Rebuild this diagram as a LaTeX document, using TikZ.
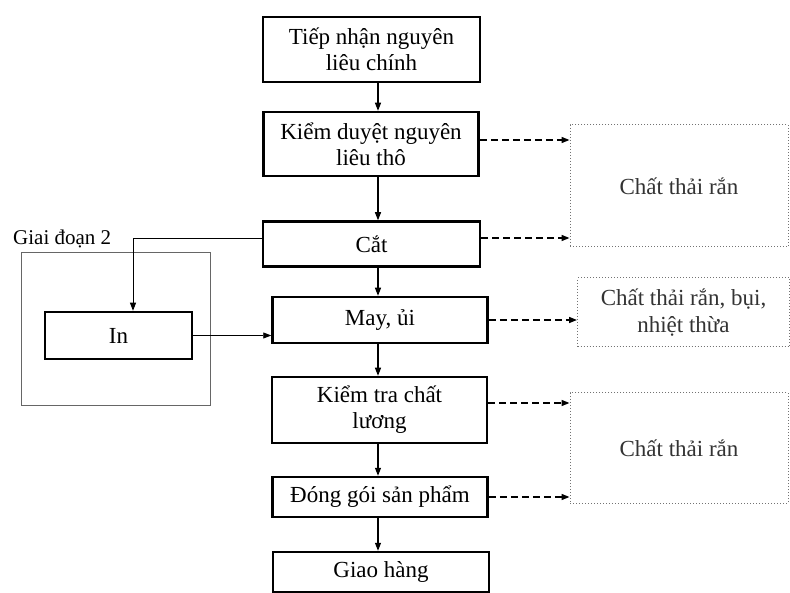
\documentclass[tikz,border=0pt]{standalone}
\usepackage{fontspec}
\setmainfont{Liberation Serif}
\usetikzlibrary{arrows.meta}
\begin{document}
\begin{tikzpicture}[x=1pt,y=-1pt,
  mainbox/.style={draw=black,line width=2.5pt,align=center,inner sep=0pt,
    font=\fontsize{23}{26}\selectfont},
  wastebox/.style={draw=black!55,dotted,line width=1pt,align=center,inner sep=0pt,
    font=\fontsize{23}{27}\selectfont,text=black!80},
  arr/.style={line width=1.1pt,-{Triangle[length=8pt,width=6pt]}},
  darr/.style={line width=1.5pt,dash pattern=on 7pt off 4pt,-{Triangle[length=8pt,width=6pt]}},
  frame/.style={draw=black!60,line width=0.9pt}
]
\useasboundingbox (0,0) rectangle (790,593);
\fill[white] (0,0) rectangle (790,593);

% main column
\node[mainbox,minimum width=217pt,minimum height=65pt] (b1) at (371.5,49.5) {Tiếp nhận nguyên\\liêu chính};
\node[mainbox,minimum width=215pt,minimum height=64pt] (b2) at (371,144) {Kiểm duyệt nguyên\\liêu thô};
\node[mainbox,minimum width=217pt,minimum height=45pt] (b3) at (371.5,244) {Cắt};
\node[mainbox,minimum width=215pt,minimum height=46pt] (b4) at (380,320) {May, ủi};
\node[mainbox,minimum width=215pt,minimum height=66pt] (b5) at (379.5,410) {Kiểm tra chất\\lương};
\node[mainbox,minimum width=215pt,minimum height=40pt] (b6) at (380,497) {Đóng gói sản phẩm};
\node[mainbox,minimum width=216pt,minimum height=40pt] (b7) at (381,572) {Giao hàng};

% waste boxes
\node[wastebox,minimum width=218pt,minimum height=122pt] (dA) at (679,186) {Chất thải rắn};
\node[wastebox,minimum width=212pt,minimum height=69pt] (dB) at (683.5,312.5) {Chất thải rắn, bụi,\\nhiệt thừa};
\node[wastebox,minimum width=218pt,minimum height=110pt] (dC) at (679,448) {Chất thải rắn};

% stage 2
\draw[frame] (21,252) rectangle (210,405);
\node[anchor=west,inner sep=0pt,font=\fontsize{21}{24}\selectfont] (g2) at (13,239) {Giai đoạn 2};
\node[mainbox,minimum width=147pt,minimum height=47pt] (in) at (118.5,335.5) {In};

% vertical arrows
\coordinate (ax) at (378,0);
\draw[arr] (b1.south -| ax) -- (b2.north -| ax);
\draw[arr] (b2.south -| ax) -- (b3.north -| ax);
\draw[arr] (b3.south -| ax) -- (b4.north -| ax);
\draw[arr] (b4.south -| ax) -- (b5.north -| ax);
\draw[arr] (b5.south -| ax) -- (b6.north -| ax);
\draw[arr] (b6.south -| ax) -- (b7.north -| ax);

% stage 2 connectors
\coordinate (kx) at (133,0);
\draw[arr,line width=0.9pt] ([yshift=6pt]b3.west) -| (in.north -| kx);
\draw[arr,line width=0.9pt] (in.east) -- (in.east -| b4.west);

% dashed arrows
\draw[darr] ([yshift=4pt]b2.east) -- ([yshift=4pt]b2.east -| dA.west);
\draw[darr] ([yshift=6pt]b3.east) -- ([yshift=6pt]b3.east -| dA.west);
\draw[darr] (b4.east) -- (b4.east -| dB.west);
\draw[darr] ([yshift=7pt]b5.east) -- ([yshift=7pt]b5.east -| dC.west);
\draw[darr] (b6.east) -- (b6.east -| dC.west);
\end{tikzpicture}
\end{document}
